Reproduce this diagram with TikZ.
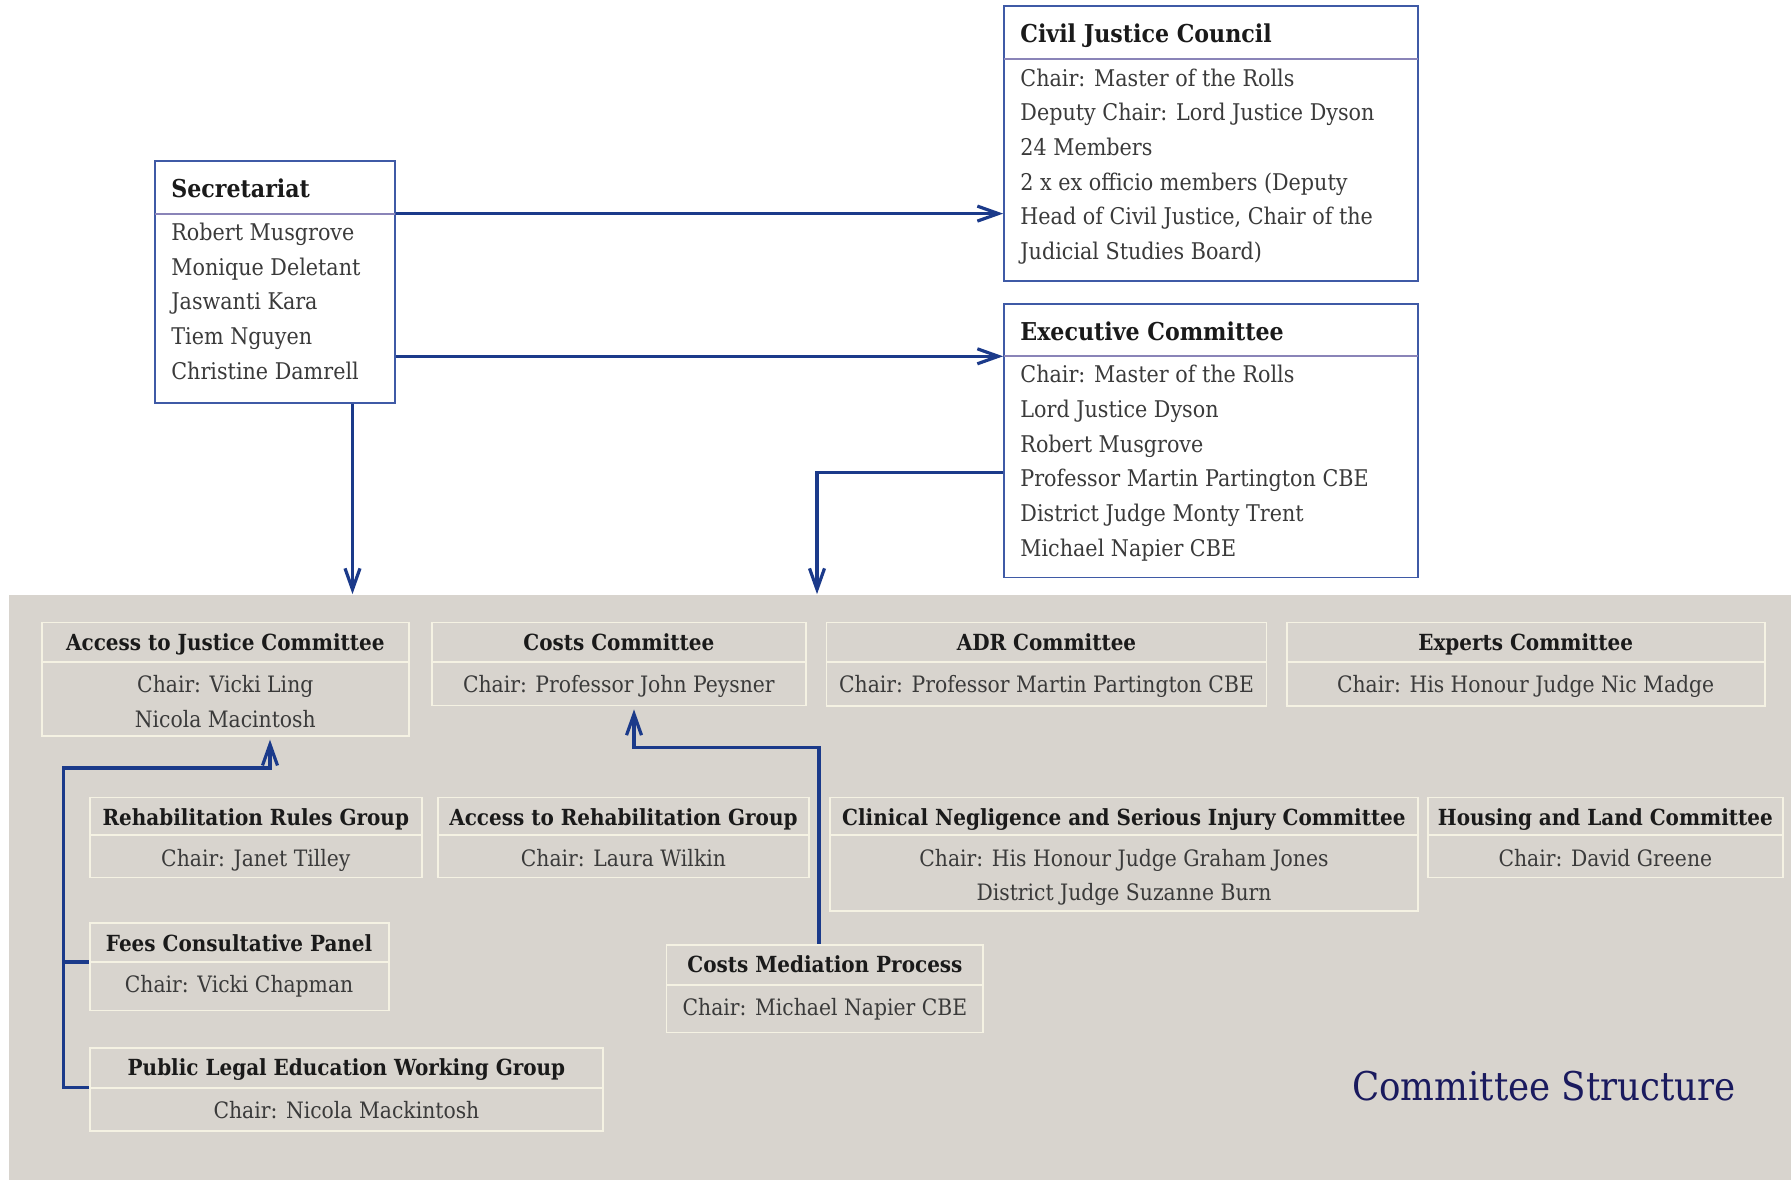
\documentclass[tikz,border=0pt]{standalone}
\usepackage{fontspec}
\setmainfont{DejaVu Serif}[FakeStretch=0.9]
\usetikzlibrary{arrows.meta,fit}
\definecolor{greybg}{HTML}{D8D4CE}
\definecolor{cream}{HTML}{F5F2E3}
\definecolor{conncol}{HTML}{1B3A8A}
\definecolor{boxblue}{HTML}{3F5AA6}
\definecolor{seplav}{HTML}{8A84B8}
\definecolor{navy}{HTML}{1A1A5E}
\definecolor{ink}{HTML}{1A1A1A}
\definecolor{bodyink}{HTML}{3A3A3A}
\tikzset{
 topbox/.style={draw=boxblue, line width=0.9pt, inner sep=0pt, fill=white},
 topsep/.style={draw=seplav, line width=1pt},
 combox/.style={draw=cream, line width=0.9pt, inner sep=0pt},
 comsep/.style={draw=cream, line width=0.9pt},
 ttl/.style={inner sep=0pt, anchor=base west, text=ink, font=\fontsize{12.3}{15}\selectfont\bfseries},
 tbody/.style={inner sep=0pt, anchor=base west, text=bodyink, font=\fontsize{11.5}{13}\selectfont},
 chead/.style={inner sep=0pt, anchor=base, text=ink, font=\fontsize{11.1}{14}\selectfont\bfseries},
 cbody/.style={inner sep=0pt, anchor=base, text=bodyink, font=\fontsize{11.3}{14}\selectfont},
 conn/.style={draw=conncol, line width=1.6pt},
 arr/.style={conn, -{Straight Barb[length=10.5pt,width=7.5pt]}},
 greyarea/.style={fill=greybg, inner sep=0pt},
 bigtitle/.style={inner sep=0pt, anchor=base, text=navy, font=\fontsize{19.8}{24}\selectfont},
}
% top box: name, x1, y1, x2, y2, sep y, title, body lines
\newcommand\topbx[8]{%
 \node[topbox, fit={(#2,#3) (#4,#5)}] (#1) {};
 \draw[topsep] (#2,#6) -- (#4,#6);
 \node[ttl] (#1-t) at ({#2+16},{#3+36.6}) {#7};
 \foreach \mytext [count=\myi] in {#8}
   \node[tbody] (#1-\myi) at ({#2+16},{#6+26.7+34.7*(\myi-1)}) {\mytext};
}
% committee box: name, x1, y1, x2, y2, sep y, title, body lines
\newcommand\combx[8]{%
 \node[combox, fit={(#2,#3) (#4,#5)}] (#1) {};
 \draw[comsep] (#2,#6) -- (#4,#6);
 \node[chead] (#1-t) at ({(#2+#4)/2},{#3+27.8}) {#7};
 \foreach \mytext [count=\myi] in {#8}
   \node[cbody] (#1-\myi) at ({(#2+#4)/2},{#6+30.7+34.4*(\myi-1)}) {\mytext};
}
\begin{document}
\begin{tikzpicture}[x=0.5pt,y=-0.5pt]
\useasboundingbox (0,0) rectangle (1791,1180);
\fill[white] (0,0) rectangle (1791,1180);
\node[greyarea, fit={(9,594.5) (1791,1180)}] (grey) {};

\topbx{sec}{155}{161}{395}{403}{213.6}{Secretariat}{Robert Musgrove,Monique Deletant,Jaswanti Kara,Tiem Nguyen,Christine Damrell}
\topbx{cjc}{1004}{6.1}{1417.6}{280.9}{59.3}{Civil Justice Council}{Chair: Master of the Rolls,Deputy Chair: Lord Justice Dyson,24 Members,2 x ex officio members (Deputy,{Head of Civil Justice, Chair of the},Judicial Studies Board)}
\topbx{exec}{1004}{303.9}{1417.6}{577.5}{355.9}{Executive Committee}{Chair: Master of the Rolls,Lord Justice Dyson,Robert Musgrove,Professor Martin Partington CBE,District Judge Monty Trent,Michael Napier CBE}

\combx{aj}{41.9}{622.5}{408.7}{735.8}{662}{Access to Justice Committee}{Chair: Vicki Ling,Nicola Macintosh}
\combx{cc}{431.7}{622.5}{806}{705.5}{662}{Costs Committee}{Chair: Professor John Peysner}
\combx{adr}{826.5}{622.5}{1266.5}{706.3}{662}{ADR Committee}{Chair: Professor Martin Partington CBE}
\combx{exp}{1286.7}{622.5}{1764.6}{706.3}{662}{Experts Committee}{Chair: His Honour Judge Nic Madge}
\combx{rrg}{89.6}{797.4}{422}{877.4}{835.3}{Rehabilitation Rules Group}{Chair: Janet Tilley}
\combx{arg}{438}{797.4}{808.8}{877.4}{835.3}{Access to Rehabilitation Group}{Chair: Laura Wilkin}
\combx{cn}{830.3}{797.4}{1417.6}{910.7}{835.3}{Clinical Negligence and Serious Injury Committee}{Chair: His Honour Judge Graham Jones,District Judge Suzanne Burn}
\combx{hl}{1427.7}{797.4}{1783}{877.4}{835.3}{Housing and Land Committee}{Chair: David Greene}
\combx{fees}{89.6}{923.3}{388.6}{1010.5}{962}{Fees Consultative Panel}{Chair: Vicki Chapman}
\combx{ple}{89.6}{1047.7}{603.3}{1130.7}{1087.8}{Public Legal Education Working Group}{Chair: Nicola Mackintosh}
\combx{cmp}{666.5}{944.7}{983.3}{1032.4}{985}{Costs Mediation Process}{Chair: Michael Napier CBE}

\node[bigtitle] (title) at (1544,1100.5) {Committee Structure};

% routing coordinates
\coordinate (h1) at (0,213.6);
\coordinate (h2) at (0,356.3);
\coordinate (h3) at (0,472.6);
\coordinate (h4) at (0,747.6);
\coordinate (h5) at (0,768);
\coordinate (h6) at (0,962);
\coordinate (h7) at (0,1087.8);
\coordinate (v1) at (352.5,0);
\coordinate (v2) at (817,0);
\coordinate (v3) at (819,0);
\coordinate (v4) at (634,0);
\coordinate (v5) at (63.7,0);
\coordinate (v6) at (270,0);

\draw[arr] (sec.east |- h1) -- (cjc.west |- h1);
\draw[arr] (sec.east |- h2) -- (exec.west |- h2);
\draw[arr] (sec.south -| v1) -- (grey.north -| v1);
\draw[arr] (exec.west |- h3) -| (grey.north -| v2);
\draw[arr, shorten >=1.5pt] (cmp.north -| v3) |- (v4 |- h4) -- (cc.south -| v4);
\draw[arr, shorten >=1.5pt] (ple.west |- h7) -| (v5 |- h5) -| (aj.south -| v6);
\draw[conn] (fees.west |- h6) -- (v5 |- h6);
\end{tikzpicture}
\end{document}
